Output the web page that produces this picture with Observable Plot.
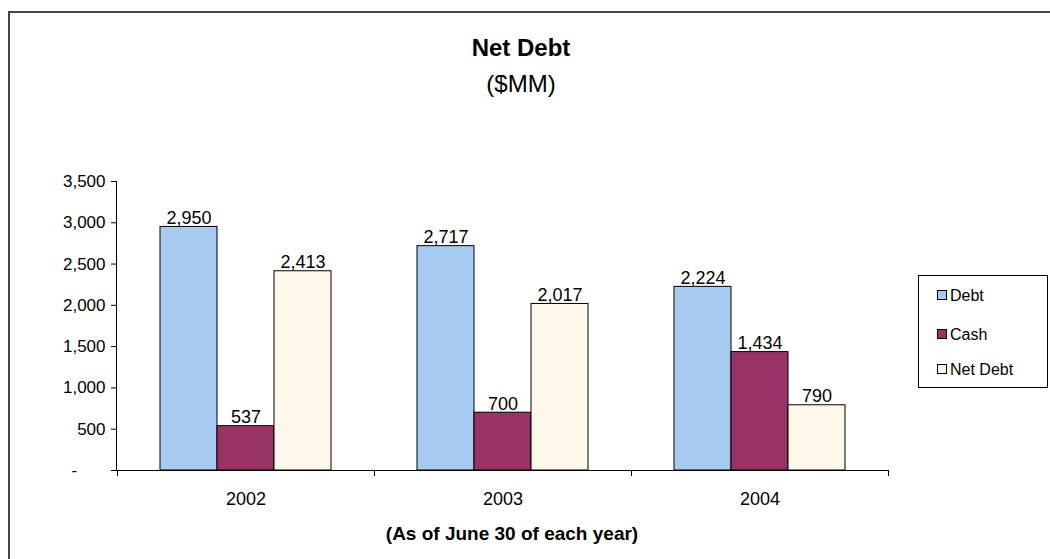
<!DOCTYPE html>
<html>
<head>
<meta charset="utf-8">
<script src="https://cdn.jsdelivr.net/npm/d3@7"></script>
<script src="https://cdn.jsdelivr.net/npm/@observablehq/plot@0.6"></script>
<style>
  html, body { margin: 0; padding: 0; background: #fff; overflow: hidden; }
  body { width: 1050px; height: 559px; position: relative; font-family: "Liberation Sans", Arial, sans-serif; }
  #frame { position: absolute; left: 8px; top: 11px; width: 1100px; height: 600px; border: 2px solid #444; box-sizing: border-box; }
  #chart { position: absolute; left: 0; top: 0; }
  #title { position: absolute; left: 0; width: 1042px; top: 34px; text-align: center; font-size: 24px; font-weight: bold; color: #000; }
  #subtitle { position: absolute; left: 0; width: 1042px; top: 70px; text-align: center; font-size: 24px; color: #000; }
  #caption { position: absolute; left: 362px; width: 300px; top: 523px; text-align: center; font-size: 19px; font-weight: bold; color: #000; }
  #legend { position: absolute; left: 918px; top: 275px; width: 130px; height: 113px; border: 1px solid #000; box-sizing: border-box; background: #fff; }
  .item { position: absolute; left: 18px; font-size: 16px; color: #000; white-space: nowrap; }
  .sw { display: inline-block; width: 8px; height: 8px; border: 1px solid #000; margin-right: 3px; vertical-align: 1px; }
</style>
</head>
<body>
<div id="frame"></div>
<div id="chart"></div>
<div id="title">Net Debt</div>
<div id="subtitle">($MM)</div>
<div id="caption">(As of June 30 of each year)</div>
<div id="legend"></div>
<script>
const years = ["2002", "2003", "2004"];
const series = ["Debt", "Cash", "Net Debt"];
const debt = [2950, 2717, 2224];
const cash = [537, 700, 1434];
const netDebt = [2413, 2017, 790];
const colors = ["#A6CAF0", "#993366", "#FFF8EA"];
const yTicks = [0, 500, 1000, 1500, 2000, 2500, 3000, 3500];

const valuesBySeries = [debt, cash, netDebt];
const rows = [];
years.forEach((yr, i) => {
  series.forEach((s, j) => rows.push({year: yr, series: s, value: valuesBySeries[j][i]}));
});

const fmt = d3.format(",");
const W = 1050, H = 559;

const chart = Plot.plot({
  width: W,
  height: H,
  marginLeft: 116,
  marginRight: 162,
  marginTop: 181,
  marginBottom: 89,
  style: {fontFamily: "'Liberation Sans', Arial, sans-serif", fontSize: "17px", color: "#000", background: "transparent"},
  fx: {domain: years, paddingInner: 0, paddingOuter: 0, label: null},
  x: {domain: series, paddingInner: 0, paddingOuter: 0.742, axis: null},
  y: {domain: [0, 3500], label: null},
  color: {domain: series, range: colors},
  marks: [
    Plot.barY(rows, {fx: "year", x: "series", y: "value", fill: "series", stroke: "#000", strokeWidth: 1}),
    Plot.text(rows, {fx: "year", x: "series", y: "value", text: d => fmt(d.value), lineAnchor: "bottom", dy: -3, fontSize: 18, fill: "#000"}),
    Plot.ruleY([0], {stroke: "#000", strokeWidth: 1}),
    Plot.axisY({ticks: yTicks, tickSize: 6, tickPadding: 6, tickFormat: d => d === 0 ? "-\u00a0\u00a0\u00a0\u00a0\u00a0\u00a0" : fmt(d), fontSize: 17}),
    Plot.axisFx({anchor: "bottom", tickSize: 0, tickPadding: 22, fontSize: 18, label: null})
  ]
});
document.getElementById("chart").appendChild(chart);

// axis lines and category-boundary ticks, placed with the plot's own scales
const fxS = chart.scale("fx"), yS = chart.scale("y");
const svg = d3.select(chart);
const y0 = yS.apply(0), yTop = yS.apply(3500);
const left = fxS.range[0], right = fxS.range[1];
const g = svg.append("g").attr("stroke", "#000").attr("stroke-width", 1);
g.append("line").attr("x1", left + 0.5).attr("x2", left + 0.5).attr("y1", yTop).attr("y2", y0);
const bounds = years.map(yr => fxS.apply(yr)).concat([right]);
bounds.forEach(b => g.append("line").attr("x1", b + 0.5).attr("x2", b + 0.5).attr("y1", y0).attr("y2", y0 + 6));

// legend
const legend = document.getElementById("legend");
const tops = [11, 50, 85];
series.forEach((s, i) => {
  const it = document.createElement("div");
  it.className = "item";
  it.style.top = tops[i] + "px";
  it.innerHTML = `<span class="sw" style="background:${colors[i]}"></span>${s}`;
  legend.appendChild(it);
});
</script>
</body>
</html>
